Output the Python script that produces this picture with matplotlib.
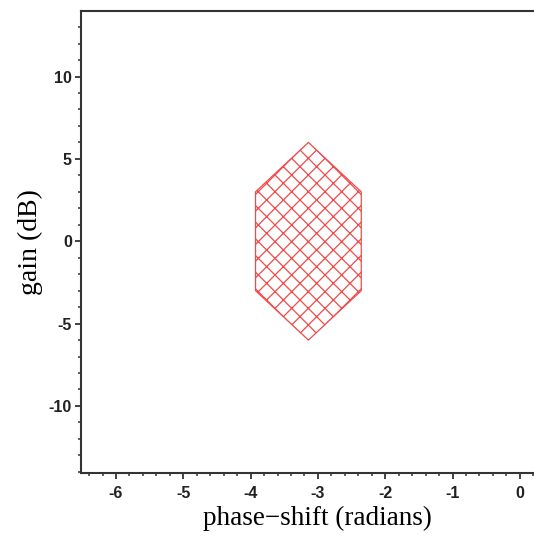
import numpy as np
import matplotlib
matplotlib.use("Agg")
import matplotlib.pyplot as plt
from matplotlib.patches import Polygon
from matplotlib.ticker import MultipleLocator

# stability region (phase in radians, gain in dB)
region_phase = [-5 * np.pi / 4, -np.pi, -3 * np.pi / 4, -3 * np.pi / 4, -np.pi, -5 * np.pi / 4]
region_gain = [3, 6, 3, -3, -6, -3]

x_ticks = [-6, -5, -4, -3, -2, -1, 0]
y_ticks = [-10, -5, 0, 5, 10]

plt.rcParams["axes.unicode_minus"] = False
plt.rcParams["hatch.linewidth"] = 0.9

fig = plt.figure(figsize=(5.34, 5.41), dpi=100)
ax = fig.add_axes([81 / 534, 68 / 541, 1 - 81 / 534, 462 / 541])

poly = Polygon(np.column_stack([region_phase, region_gain]), closed=True,
               facecolor="none", edgecolor="#f04a4a", hatch="xx", linewidth=0.9)
ax.add_patch(poly)

ax.set_xlim(-6.52, 0.21)
ax.set_ylim(-14.07, 13.98)

ax.set_xticks(x_ticks)
ax.set_yticks(y_ticks)
ax.xaxis.set_minor_locator(MultipleLocator(0.2))
ax.yaxis.set_minor_locator(MultipleLocator(1))

ax.spines["right"].set_visible(False)
for s in ["left", "bottom", "top"]:
    ax.spines[s].set_linewidth(1.5)
    ax.spines[s].set_color("#333333")

ax.tick_params(which="major", direction="out", length=4, width=1.3, color="#333333")
ax.tick_params(axis="x", which="major", pad=5)
ax.tick_params(axis="y", which="major", pad=2.5)
ax.tick_params(which="minor", direction="out", length=2.5, width=1.1, color="#333333")
for lab in ax.get_xticklabels() + ax.get_yticklabels():
    lab.set_fontfamily("Liberation Sans")
    lab.set_fontweight("bold")
    lab.set_fontsize(11.5)
    lab.set_color("#222222")

ax.set_xlabel("phase\u2212shift (radians)", fontfamily="Liberation Serif", fontsize=19.5)
ax.set_ylabel("gain (dB)", fontfamily="Liberation Serif", fontsize=20, labelpad=4)
ax.xaxis.set_label_coords(0.521, -0.072)

fig.savefig("out.png", dpi=100)
